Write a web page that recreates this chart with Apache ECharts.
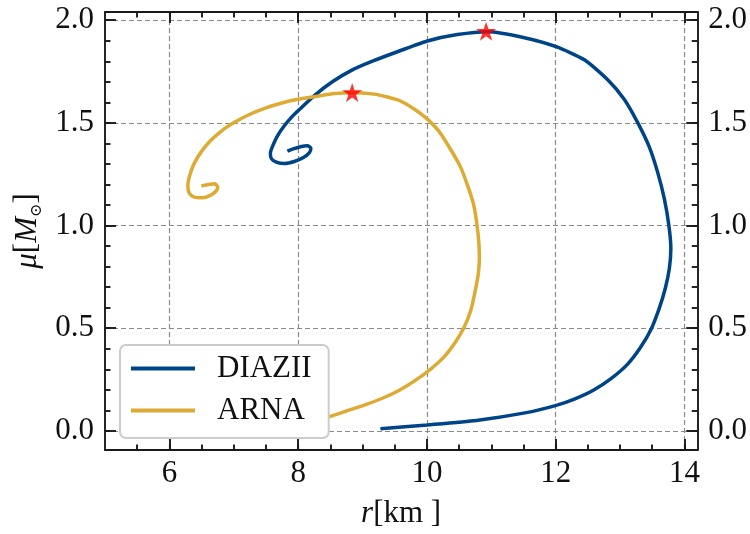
<!DOCTYPE html>
<html>
<head>
<meta charset="utf-8">
<script src="https://cdn.jsdelivr.net/npm/echarts@6/dist/echarts.min.js"></script>
<style>
  html, body { margin: 0; padding: 0; background: #ffffff; }
  #chart { width: 750px; height: 534px; }
</style>
</head>
<body>
<div id="chart"></div>
<script>
// Mass–radius relations for two equations of state
const seriesNames = ['DIAZII', 'ARNA'];

// DIAZII: radius [km] and mass [M_sun], ordered by increasing central density
const diaziiR = [9.278, 10.008, 10.769, 11.546, 11.996, 12.291, 12.586, 12.866, 13.115, 13.317, 13.487, 13.612, 13.705, 13.767, 13.790, 13.759, 13.689, 13.585, 13.456, 13.275, 13.068, 12.809, 12.447, 12.007, 11.515, 10.940, 10.474, 10.008, 9.573, 9.184, 8.843, 8.532, 8.252, 8.019, 7.895, 7.786, 7.693, 7.616, 7.569, 7.584, 7.662, 7.786, 7.942, 8.082, 8.175, 8.198, 8.144, 8.035, 7.911, 7.833];
const diaziiM = [0.010, 0.029, 0.051, 0.089, 0.123, 0.155, 0.198, 0.256, 0.324, 0.406, 0.498, 0.599, 0.696, 0.792, 0.889, 1.001, 1.130, 1.259, 1.382, 1.501, 1.614, 1.710, 1.807, 1.871, 1.915, 1.944, 1.930, 1.899, 1.850, 1.804, 1.758, 1.700, 1.633, 1.565, 1.527, 1.486, 1.444, 1.396, 1.353, 1.326, 1.309, 1.302, 1.312, 1.331, 1.355, 1.377, 1.389, 1.384, 1.372, 1.362];

// ARNA: radius [km] and mass [M_sun]
const arnaR = [8.206, 8.485, 8.750, 9.029, 9.309, 9.573, 9.821, 10.054, 10.256, 10.427, 10.575, 10.684, 10.753, 10.800, 10.816, 10.795, 10.720, 10.520, 10.210, 10.012, 9.790, 9.573, 9.386, 9.184, 8.843, 8.563, 8.279, 8.019, 7.760, 7.491, 7.243, 7.025, 6.823, 6.645, 6.497, 6.388, 6.318, 6.287, 6.311, 6.388, 6.513, 6.637, 6.722, 6.753, 6.707, 6.606, 6.497];
const arnaM = [0.048, 0.070, 0.097, 0.126, 0.159, 0.198, 0.246, 0.300, 0.357, 0.425, 0.502, 0.589, 0.686, 0.768, 0.850, 0.960, 1.110, 1.287, 1.449, 1.517, 1.570, 1.609, 1.626, 1.640, 1.647, 1.643, 1.629, 1.616, 1.598, 1.572, 1.541, 1.505, 1.464, 1.415, 1.360, 1.304, 1.246, 1.193, 1.157, 1.138, 1.135, 1.147, 1.167, 1.188, 1.203, 1.200, 1.193];

// Maximum-mass configurations (DIAZII, ARNA)
const maxMassR = [10.92, 8.84];
const maxMassM = [1.946, 1.648];

// Axis ticks
const xMajorTicks = [6, 8, 10, 12, 14];
const xMinorTicks = [5.5, 6, 6.5, 7, 7.5, 8, 8.5, 9, 9.5, 10, 10.5, 11, 11.5, 12, 12.5, 13, 13.5, 14];
const yMajorTicks = [0, 0.5, 1, 1.5, 2];
const yMinorTicks = [0, 0.1, 0.2, 0.3, 0.4, 0.5, 0.6, 0.7, 0.8, 0.9, 1, 1.1, 1.2, 1.3, 1.4, 1.5, 1.6, 1.7, 1.8, 1.9, 2];

const colors = ['#004488', '#DDAA33'];
const FONT = "'Liberation Serif', 'DejaVu Serif', serif";
const TEXT_COLOR = '#111111';
const FONT_SIZE = 31;
const X_RANGE = [5, 14.2];
const Y_RANGE = [-0.093, 2.04];

const starPath = 'path://M100 0 L122.45 69.1 L195.1 69.1 L136.3 111.8 L158.8 180.9 L100 138.2 L41.2 180.9 L63.7 111.8 L4.9 69.1 L77.55 69.1 Z';

function pairs(xs, ys) {
  return xs.map((x, i) => [x, ys[i]]);
}

const axisLineStyle = { color: '#1a1a1a', width: 1.9 };
const gridLineStyle = { color: '#8a8a8a', width: 1.2, type: [5, 3] };

function makeAxis(dim, position, ticks, major, withLabels) {
  const range = dim === 'x' ? X_RANGE : Y_RANGE;
  return {
    type: 'value',
    position: position,
    min: range[0],
    max: range[1],
    axisLine: { show: major, onZero: false, lineStyle: axisLineStyle },
    axisTick: {
      show: true,
      inside: true,
      length: major ? 11 : 5.5,
      customValues: ticks,
      lineStyle: axisLineStyle
    },
    axisLabel: {
      show: withLabels,
      customValues: ticks,
      margin: dim === 'x' ? 8 : 11,
      fontFamily: FONT,
      fontSize: FONT_SIZE,
      color: TEXT_COLOR,
      formatter: dim === 'x' ? (v) => String(Math.round(v)) : (v) => v.toFixed(1)
    },
    splitLine: { show: major && (position === 'bottom' || position === 'left'), lineStyle: gridLineStyle },
    minorTick: { show: false },
    minorSplitLine: { show: false }
  };
}

const xAxes = [
  makeAxis('x', 'bottom', xMajorTicks, true, true),
  makeAxis('x', 'bottom', xMinorTicks, false, false),
  makeAxis('x', 'top', xMajorTicks, true, false),
  makeAxis('x', 'top', xMinorTicks, false, false)
];
Object.assign(xAxes[0], {
  name: '{i|r}[km ]',
  nameLocation: 'middle',
  nameGap: 48,
  nameTextStyle: {
    fontFamily: FONT, fontSize: FONT_SIZE, color: TEXT_COLOR,
    rich: { i: { fontFamily: FONT, fontSize: FONT_SIZE, fontStyle: 'italic', color: TEXT_COLOR } }
  }
});

const yAxes = [
  makeAxis('y', 'left', yMajorTicks, true, true),
  makeAxis('y', 'left', yMinorTicks, false, false),
  makeAxis('y', 'right', yMajorTicks, true, true),
  makeAxis('y', 'right', yMinorTicks, false, false)
];
Object.assign(yAxes[0], {
  name: '{i|μ}[{i|M}{s|⊙}]',
  nameLocation: 'middle',
  nameGap: 58,
  nameTextStyle: {
    fontFamily: FONT, fontSize: FONT_SIZE, color: TEXT_COLOR, lineHeight: 34,
    rich: {
      i: { fontFamily: FONT, fontSize: FONT_SIZE, fontStyle: 'italic', color: TEXT_COLOR, lineHeight: 34 },
      s: { fontFamily: "'DejaVu Serif', serif", fontSize: 16, color: TEXT_COLOR, lineHeight: 16, verticalAlign: 'bottom' }
    }
  }
});

const chart = echarts.init(document.getElementById('chart'), null, { renderer: 'canvas' });

chart.setOption({
  animation: false,
  backgroundColor: '#ffffff',
  color: colors,
  grid: { left: 105, right: 52, top: 12, bottom: 81, containLabel: false },
  xAxis: xAxes,
  yAxis: yAxes,
  legend: {
    orient: 'vertical',
    left: 120,
    top: 345,
    padding: [8, 17, 12, 11],
    itemGap: 11,
    itemWidth: 64,
    itemHeight: 4,
    backgroundColor: '#ffffff',
    borderColor: '#cccccc',
    borderWidth: 2,
    borderRadius: 6,
    textStyle: { fontFamily: FONT, fontSize: FONT_SIZE, color: TEXT_COLOR, lineHeight: 31, padding: [0, 0, 0, 17] },
    data: seriesNames.map((n) => ({ name: n, icon: 'rect' }))
  },
  series: [
    {
      name: seriesNames[0],
      type: 'line',
      xAxisIndex: 0, yAxisIndex: 0,
      data: pairs(diaziiR, diaziiM),
      showSymbol: false, symbol: 'none',
      smooth: 0.2,
      lineStyle: { color: colors[0], width: 3.5 },
      z: 3
    },
    {
      name: seriesNames[1],
      type: 'line',
      xAxisIndex: 0, yAxisIndex: 0,
      data: pairs(arnaR, arnaM),
      showSymbol: false, symbol: 'none',
      smooth: 0.2,
      lineStyle: { color: colors[1], width: 3.5 },
      z: 3
    },
    {
      name: 'max',
      type: 'scatter',
      xAxisIndex: 0, yAxisIndex: 0,
      data: pairs(maxMassR, maxMassM),
      symbol: starPath,
      symbolSize: 20,
      symbolKeepAspect: true,
      itemStyle: { color: '#ff0000' },
      z: 5
    }
  ]
});
</script>
</body>
</html>
